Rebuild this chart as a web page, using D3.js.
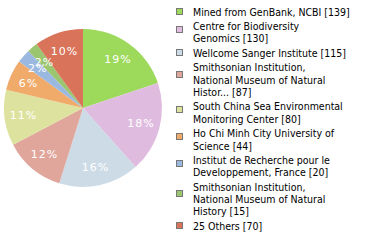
<!DOCTYPE html>
<html>
<head>
<meta charset="utf-8">
<script src="https://cdn.jsdelivr.net/npm/d3@7"></script>
<style>
  body { margin: 0; background: #fff; }
  svg { display: block; }
  text { font-family: "DejaVu Sans Condensed", "DejaVu Sans", sans-serif; }
</style>
</head>
<body>
<script>
// data
const labels = [
    ["Mined from GenBank, NCBI [139]"],
    ["Centre for Biodiversity", "Genomics [130]"],
    ["Wellcome Sanger Institute [115]"],
    ["Smithsonian Institution,", "National Museum of Natural", "Histor... [87]"],
    ["South China Sea Environmental", "Monitoring Center [80]"],
    ["Ho Chi Minh City University of", "Science [44]"],
    ["Institut de Recherche pour le", "Developpement, France [20]"],
    ["Smithsonian Institution,", "National Museum of Natural", "History [15]"],
    ["25 Others [70]"]
];
const counts = [139, 130, 115, 87, 80, 44, 20, 15, 70];
const colors = ["#9dd95b", "#dfbcdf", "#cddbe6", "#e0a59b", "#dde39e", "#f0ab6b", "#9bb9e0", "#9cc56f", "#d9745a"];

const w = 380, h = 240;
const cx = 83, cy = 108, r = 79;
const lineH = 12.3, gap = 2.2;

const svg = d3.select("body").append("svg")
    .attr("width", w)
    .attr("height", h);

const total = d3.sum(counts);
const pie = d3.pie().sort(null).value(d => d);
const arcs = pie(counts);
const arc = d3.arc().innerRadius(0).outerRadius(r);
const labelArc = d3.arc().innerRadius(60).outerRadius(60);

const g = svg.append("g").attr("transform", `translate(${cx},${cy})`);

g.selectAll("path")
    .data(arcs)
    .enter()
    .append("path")
    .attr("d", arc)
    .attr("fill", (d, i) => colors[i]);

g.selectAll("text")
    .data(arcs)
    .enter()
    .append("text")
    .attr("transform", d => `translate(${labelArc.centroid(d)})`)
    .attr("text-anchor", "middle")
    .attr("dy", "0.35em")
    .attr("fill", "#fff")
    .style("font-family", "'DejaVu Sans', sans-serif")
    .style("font-size", "11px")
    .style("letter-spacing", "1px")
    .text(d => Math.floor(d.data / total * 100) + "%");

// legend layout: centre of the first line of each group
let yc = 11.5;
const groupTop = labels.map(d => {
    const t = yc;
    yc += d.length * lineH + gap;
    return t;
});

const leg = svg.append("g");
leg.selectAll("rect")
    .data(counts)
    .enter()
    .append("rect")
    .attr("x", 176.5)
    .attr("y", (d, i) => Math.round(groupTop[i] + (labels[i].length - 1) * 3.5 - 3.5) + 0.5)
    .attr("width", 6)
    .attr("height", 6)
    .attr("fill", (d, i) => colors[i])
    .attr("stroke", "#777")
    .attr("stroke-width", 1);

leg.selectAll("text")
    .data(labels)
    .enter()
    .append("text")
    .attr("y", (d, i) => groupTop[i] + 4)
    .attr("fill", "#000")
    .style("font-size", "10.5px")
    .each(function (d) {
        d3.select(this).selectAll("tspan")
            .data(d)
            .enter()
            .append("tspan")
            .attr("x", 193)
            .attr("dy", (t, j) => j ? lineH : 0)
            .text(t => t);
    });
</script>
</body>
</html>
